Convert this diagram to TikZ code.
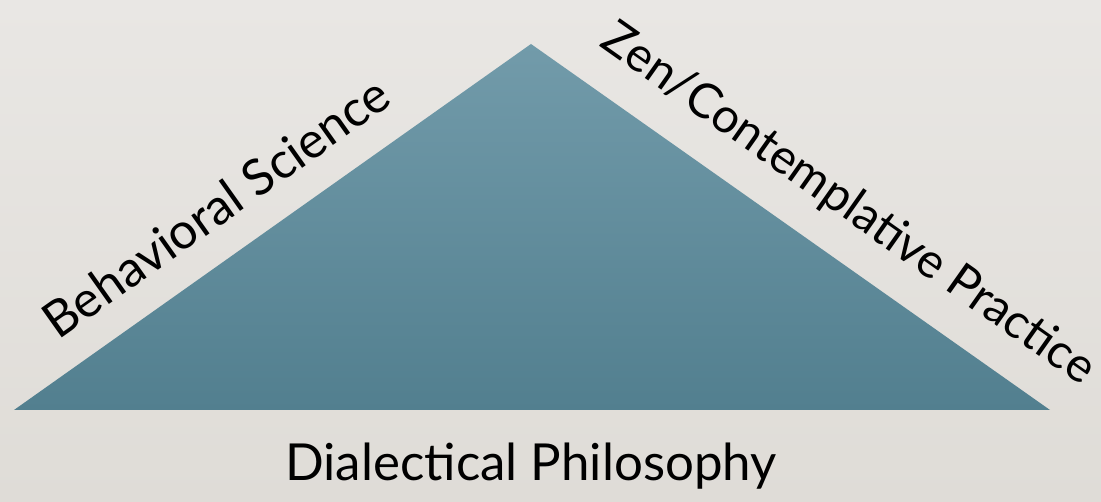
\documentclass[tikz,border=0pt]{standalone}
\usepackage{fontspec}
\setmainfont{Lato}
\definecolor{bgtop}{HTML}{E9E7E4}
\definecolor{bgbot}{HTML}{DFDCD7}
\definecolor{tritop}{HTML}{729BAA}
\definecolor{tribot}{HTML}{527F8F}
\tikzset{
  lbl/.style={font=\fontsize{50}{56}\selectfont, text=black, inner sep=0pt},
}
\begin{document}
\begin{tikzpicture}[x=1pt,y=-1pt]
\shade[top color=bgtop, bottom color=bgbot] (0,0) rectangle (1101,502);
\useasboundingbox (0,0) rectangle (1101,502);
\coordinate (apex) at (531,44);
\coordinate (bl) at (14,410);
\coordinate (br) at (1050,410);
\shade[top color=tritop, bottom color=tribot] (apex) -- (br) -- (bl) -- cycle;
\node[lbl, rotate=35.3] (bs) at (216,207) {Behavioral Science};
\node[lbl, rotate=-35.2, font=\fontsize{48}{54}\selectfont] (zen) at (848,205) {Zen/Contemplative Practice};
\node[lbl, font=\fontsize{51}{57}\selectfont] (dp) at (531,466) {Dialectical Philosophy};
\end{tikzpicture}
\end{document}
